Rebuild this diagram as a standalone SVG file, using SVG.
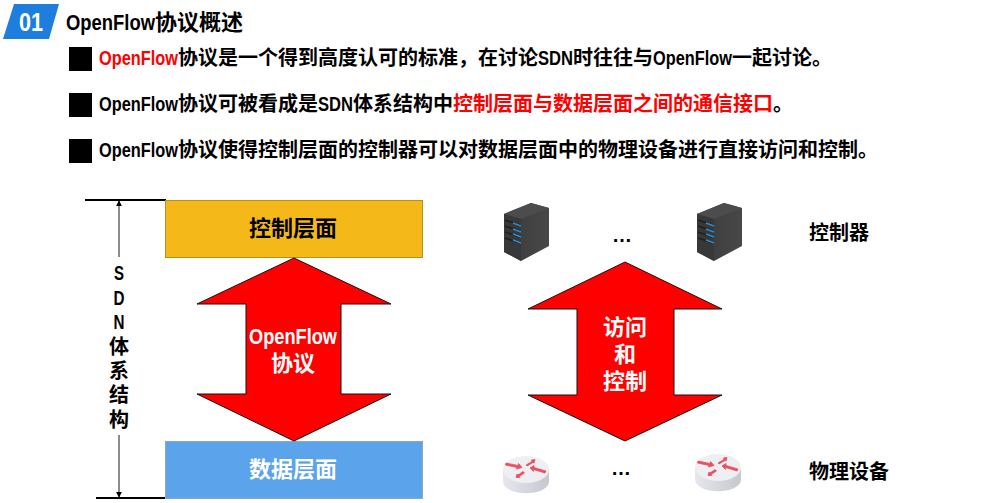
<svg xmlns="http://www.w3.org/2000/svg" width="987" height="503" viewBox="0 0 987 503">
<style>
text{font-family:"Liberation Sans","Noto Sans CJK SC",sans-serif;font-weight:700;fill:#000}
.b{font-size:20px}
.m{font-size:20px;text-anchor:middle}
.c{text-anchor:middle;font-size:22px}
.wt{fill:#fff}
.arr{fill:#f00;stroke:#111;stroke-width:1}
.red{fill:#f00}
.dot{font-size:20px;text-anchor:middle}
</style>
<defs>
<marker id="ah" viewBox="0 0 8 8" refX="7" refY="4" markerWidth="6" markerHeight="6" markerUnits="userSpaceOnUse" orient="auto"><path d="M0 0L8 4L0 8Z" fill="#000"/></marker>
<linearGradient id="srv" x1="0" y1="0" x2="1" y2="0"><stop offset="0" stop-color="#3a3a3a"/><stop offset="1" stop-color="#484848"/></linearGradient>
<linearGradient id="rb" x1="0" y1="0" x2="1" y2="0"><stop offset="0" stop-color="#e6e7eb"/><stop offset="1" stop-color="#c6c8cf"/></linearGradient>
<g id="server">
<path d="M0 11L27 0L45 5V43L17 58L0 49Z" fill="url(#srv)"/>
<path d="M0 11L27 0L45 5L17 16Z" fill="#4c4c4c"/>
<path d="M0 11L17 16V58L0 49Z" fill="#383838"/>
<path d="M1 17L16 22M1 23L16 28M1 29L16 34M1 35L16 40" stroke="#1f1f1f" stroke-width="1.500"/>
<path d="M9 20L17 23M9 26L17 29M9 31L17 34M9 37L17 40" stroke="#2d8ad0" stroke-width="1.500"/>
</g>
<g id="router">
<path d="M0 13V26C2 41 44 41 46 26V13Z" fill="url(#rb)"/>
<ellipse cx="23" cy="13.500" rx="23" ry="13.500" fill="#eeeff2"/>
<g fill="#e8505f" stroke="#e8505f" stroke-width="0.800">
<path d="M3 7L15 9.500L15.500 7.500L19 11.500L13.500 13L14 11.500L2.500 9Z"/>
<path d="M23 9L29 5.500L28.500 4L32 3.500L31 7L30 6.500L24 10Z"/>
<path d="M27 12L31 9.500L31 11.500L43 15L42 17L30.500 13.500L30.500 15.500Z"/>
<path d="M13 21.500L14 18L15 19L20 15.500L21.500 17L16 20.500L17 21.500Z"/>
</g>
</g>
</defs>

<g id="title">
<path d="M14 4H59L49 39H3Z" fill="#1e7ede"/>
<text x="31" y="31" font-size="26" text-anchor="middle" class="wt" textLength="24" lengthAdjust="spacingAndGlyphs">01</text>
<text x="66" y="30" font-size="22"><tspan textLength="89" lengthAdjust="spacingAndGlyphs">OpenFlow</tspan>协议概述</text>
</g>
<g id="bullets">
<rect x="69" y="47" width="23" height="24"/>
<rect x="69" y="93" width="23" height="24"/>
<rect x="69" y="139" width="23" height="24"/>
<text class="b" x="99" y="65"><tspan class="red" textLength="79" lengthAdjust="spacingAndGlyphs">OpenFlow</tspan>协议是一个得到高度认可的标准，在讨论<tspan textLength="35" lengthAdjust="spacingAndGlyphs">SDN</tspan>时往往与<tspan textLength="79" lengthAdjust="spacingAndGlyphs">OpenFlow</tspan>一起讨论。</text>
<text class="b" x="99" y="111"><tspan textLength="79" lengthAdjust="spacingAndGlyphs">OpenFlow</tspan>协议可被看成是<tspan textLength="35" lengthAdjust="spacingAndGlyphs">SDN</tspan>体系结构中<tspan class="red">控制层面与数据层面之间的通信接口</tspan>。</text>
<text class="b" x="99" y="157"><tspan textLength="79" lengthAdjust="spacingAndGlyphs">OpenFlow</tspan>协议使得控制层面的控制器可以对数据层面中的物理设备进行直接访问和控制。</text>
</g>

<g id="connectors">
<path d="M85 200H166M96 498H177" stroke="#000" stroke-width="2" fill="none"/>
<path d="M119 257V201" stroke="#666" stroke-width="1.500" marker-end="url(#ah)"/>
<path d="M119 435V497" stroke="#666" stroke-width="1.500" marker-end="url(#ah)"/>
</g>

<g id="sdn-label">
<text class="m" y="280"><tspan x="119" textLength="10" lengthAdjust="spacingAndGlyphs">S</tspan><tspan x="119" dy="25" textLength="11" lengthAdjust="spacingAndGlyphs">D</tspan><tspan x="119" dy="24" textLength="11" lengthAdjust="spacingAndGlyphs">N</tspan><tspan x="119" dy="25">体</tspan><tspan x="119" dy="24">系</tspan><tspan x="119" dy="24">结</tspan><tspan x="119" dy="25">构</tspan></text>
</g>

<g id="control-plane">
<rect x="165.500" y="200.500" width="257" height="57" fill="#f4b918" stroke="#b8901c"/>
<text class="c" x="293" y="236">控制层面</text>
</g>
<g id="data-plane">
<rect x="165.500" y="441.500" width="257" height="57" fill="#5ba3ea" stroke="#8aa9c6"/>
<text class="c wt" x="293" y="477">数据层面</text>
</g>
<g id="openflow-arrow">
<path class="arr" d="M294 258L391 304H341V394H391L294 441L197 394H246V304H197Z"/>
<text class="c wt" x="293" y="344" textLength="88" lengthAdjust="spacingAndGlyphs">OpenFlow</text>
<text class="c wt" x="293" y="371">协议</text>
</g>
<g id="access-arrow">
<path class="arr" d="M625 262L722 309H674V395H722L625 441L528 395H577V309H528Z"/>
<text class="c wt" x="625" y="335">访问</text>
<text class="c wt" x="625" y="362">和</text>
<text class="c wt" x="625" y="389">控制</text>
</g>

<g id="server-1"><use href="#server" x="504" y="203"/></g>
<g id="server-2"><use href="#server" x="697" y="203"/></g>
<g id="dots-top"><text class="dot" x="622" y="242">…</text></g>
<g id="router-1"><use href="#router" x="503" y="456"/></g>
<g id="router-2"><use href="#router" x="695" y="454"/></g>
<g id="dots-bottom"><text class="dot" x="621" y="475">…</text></g>
<g id="controller-label"><text x="809" y="240" font-size="20">控制器</text></g>
<g id="device-label"><text x="809" y="479" font-size="20">物理设备</text></g>
</svg>
